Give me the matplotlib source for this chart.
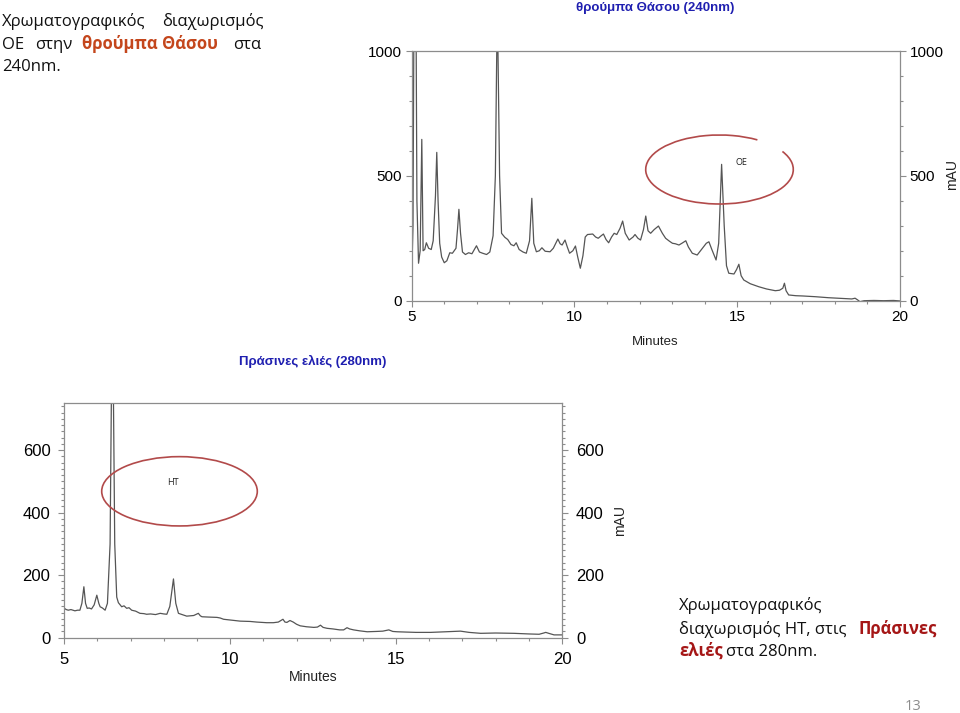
import matplotlib
matplotlib.use("Agg")
import matplotlib.pyplot as plt
from matplotlib.patches import Arc, Ellipse
from matplotlib.ticker import MultipleLocator

# ---------------- data ----------------
top_title = "θρούμπα Θάσου (240nm)"
top_time = [5.00, 5.04, 5.08, 5.12, 5.16, 5.21, 5.26, 5.31, 5.35, 5.40, 5.45, 5.52, 5.60, 5.66,
            5.73, 5.77, 5.81, 5.86, 5.92, 6.00, 6.08, 6.17, 6.25, 6.36, 6.41, 6.45, 6.50, 6.56,
            6.65, 6.75, 6.85, 6.99, 7.08, 7.18, 7.30, 7.40, 7.50, 7.57, 7.63, 7.70, 7.76, 7.86,
            7.95, 8.05, 8.14, 8.21, 8.30, 8.42, 8.52, 8.62, 8.69, 8.75, 8.83, 8.92, 9.00, 9.10,
            9.25, 9.35, 9.49, 9.56, 9.62, 9.71, 9.78, 9.85, 9.95, 10.03, 10.10, 10.18, 10.26,
            10.33, 10.40, 10.56, 10.65, 10.73, 10.82, 10.89, 10.97, 11.05, 11.14, 11.22, 11.30,
            11.40, 11.48, 11.56, 11.68, 11.80, 11.86, 11.95, 12.03, 12.12, 12.19, 12.26, 12.34,
            12.45, 12.58, 12.70, 12.80, 12.92, 13.01, 13.10, 13.21, 13.30, 13.42, 13.50, 13.62,
            13.77, 13.90, 14.05, 14.13, 14.22, 14.35, 14.43, 14.52, 14.60, 14.67, 14.74, 14.90,
            14.98, 15.05, 15.12, 15.20, 15.40, 15.66, 15.90, 16.17, 16.30, 16.40, 16.45, 16.50,
            16.58, 16.80, 17.00, 17.40, 17.80, 18.20, 18.52, 18.62, 18.70, 18.77, 18.90, 19.20,
            19.50, 19.80, 20.00]
top_mau = [100, 300, 1500, 1500, 400, 150, 200, 646, 200, 205, 232, 210, 205, 240,
           420, 594, 400, 230, 175, 152, 160, 192, 190, 210, 290, 366, 270, 195,
           185, 192, 188, 220, 195, 190, 185, 195, 260, 500, 1200, 500, 270, 254,
           245, 225, 220, 232, 205, 195, 190, 240, 410, 230, 196, 200, 212, 198,
           196, 210, 247, 228, 223, 243, 215, 190, 200, 219, 175, 130, 180,
           255, 265, 267, 255, 250, 260, 267, 245, 232, 255, 270, 265,
           290, 319, 270, 243, 255, 265, 250, 243, 285, 339, 280, 270,
           285, 299, 270, 250, 238, 230, 228, 223, 230, 240, 215, 190,
           183, 205, 230, 236, 205, 163, 230, 546, 300, 140, 110, 107,
           125, 146, 100, 83, 68, 56, 47, 40, 42, 50, 70, 40,
           23, 20, 19, 16, 12, 9, 7, 10, 3, -4, 0, 1,
           0, 1, -1]

bot_title = "Πράσινες ελιές (280nm)"
bot_time = [5.00, 5.06, 5.12, 5.20, 5.32, 5.40, 5.47, 5.53, 5.59, 5.64, 5.69, 5.75, 5.82, 5.90,
            5.98, 6.04, 6.08, 6.15, 6.23, 6.30, 6.38, 6.43, 6.47, 6.52, 6.58, 6.63, 6.73, 6.80,
            6.88, 6.95, 7.03, 7.15, 7.28, 7.40, 7.48, 7.60, 7.75, 7.89, 8.00, 8.09, 8.18, 8.29,
            8.36, 8.44, 8.55, 8.69, 8.90, 9.04, 9.10, 9.15, 9.35, 9.60, 9.70, 9.80, 10.05, 10.30,
            10.60, 10.80, 11.10, 11.30, 11.45, 11.59, 11.65, 11.71, 11.80, 11.90, 12.00, 12.11,
            12.30, 12.52, 12.63, 12.72, 12.80, 12.92, 13.10, 13.30, 13.42, 13.52, 13.60, 13.72,
            13.90, 14.13, 14.40, 14.60, 14.78, 14.90, 15.03, 15.30, 15.60, 16.04, 16.50, 16.94,
            17.20, 17.55, 18.00, 18.55, 19.00, 19.31, 19.45, 19.51, 19.60, 19.76, 20.00]
bot_mau = [94, 90, 88, 90, 86, 88, 88, 110, 163, 110, 94, 95, 92, 105,
           136, 110, 99, 95, 88, 110, 300, 900, 900, 300, 130, 112, 99, 102,
           94, 96, 88, 85, 78, 77, 75, 76, 74, 78, 76, 75, 100, 188,
           110, 78, 74, 69, 71, 78, 70, 67, 66, 65, 63, 59, 56, 53,
           52, 50, 48, 48, 50, 59, 50, 49, 55, 50, 43, 38,
           35, 33, 34, 40, 33, 30, 28, 25, 25, 32, 28, 25,
           22, 19, 20, 21, 25, 20, 19, 18, 17, 17, 19, 21,
           17, 14, 15, 14, 12, 11, 15, 17, 14, 9, 9]

x_ticks = [5, 10, 15, 20]
top_yticks = [0, 500, 1000]
bot_yticks = [0, 200, 400, 600]

# ---------------- figure ----------------
W, H = 960, 713
fig = plt.figure(figsize=(W / 100, H / 100), dpi=100)
fig.patch.set_facecolor("white")

axis_col = "#8c8c8c"
trace_col = "#555555"
blue = "#1f1fb0"
tick_font = "Liberation Sans"


def px_axes(x0, y0, x1, y1):
    return fig.add_axes([x0 / W, 1 - y1 / H, (x1 - x0) / W, (y1 - y0) / H])


def style(ax, yticks, ylim, yminor, fs):
    ax.set_xlim(5, 20)
    ax.set_ylim(*ylim)
    ax.set_xticks(x_ticks)
    ax.set_yticks(yticks)
    ax.xaxis.set_minor_locator(MultipleLocator(1))
    ax.yaxis.set_minor_locator(MultipleLocator(yminor))
    for s in ax.spines.values():
        s.set_color(axis_col)
        s.set_linewidth(0.9)
    ax.tick_params(which="both", color=axis_col, width=0.8, direction="out",
                   left=True, right=True, labelleft=True, labelright=True,
                   bottom=True, top=False)
    ax.tick_params(which="major", length=4, labelsize=fs, pad=3)
    ax.tick_params(which="minor", length=2.2)
    for lab in ax.get_xticklabels() + ax.get_yticklabels():
        lab.set_fontfamily(tick_font)
    ax.patch.set_alpha(0)


ax1 = px_axes(411.7, 51, 900, 300.7)
ax1.plot(top_time, top_mau, color=trace_col, lw=0.9, solid_joinstyle="round")
style(ax1, top_yticks, (0, 1000), 100, 11)

ax2 = px_axes(64.3, 403.3, 562, 637.7)
ax2.plot(bot_time, bot_mau, color=trace_col, lw=0.9, solid_joinstyle="round")
style(ax2, bot_yticks, (0, 750), 20, 12)
ax2.tick_params(which="major", pad=6)

# ---------------- overlay ----------------
ov = fig.add_axes([0, 0, 1, 1])
ov.set_xlim(0, W)
ov.set_ylim(H, 0)
ov.axis("off")
ov.patch.set_alpha(0)

lab_kw = dict(family=tick_font, color="#222222")
ov.text(655, 342, "Minutes", fontsize=9.5, ha="center", va="center", **lab_kw)
ov.text(952, 175, "mAU", fontsize=10, ha="center", va="center", rotation=90, **lab_kw)
ov.text(313, 677, "Minutes", fontsize=10, ha="center", va="center", **lab_kw)
ov.text(620, 520, "mAU", fontsize=10, ha="center", va="center", rotation=90, **lab_kw)

ov.text(655, 8, top_title, fontsize=9.5, ha="center", va="center", color=blue,
        family=tick_font, fontweight="bold")
ov.text(313, 361, bot_title, fontsize=9.5, ha="center", va="center", color=blue,
        family=tick_font, fontweight="bold")

ell_col = "#b24a4a"
ov.add_patch(Arc((719.5, 169.5), 147.6, 69, theta1=-16, theta2=322,
                 color=ell_col, lw=1.2))
ov.text(741.7, 162.7, "OE", fontsize=6.5, ha="center", va="center",
        family="Open Sans", color="#222222")
ov.add_patch(Ellipse((179.5, 491.3), 155.6, 69.3, fill=False,
                     edgecolor=ell_col, lw=1.2))
ov.text(173.3, 482.7, "HT", fontsize=6.5, ha="center", va="center",
        family="Open Sans", color="#222222")

body_font = ["Open Sans", "Noto Sans", "DejaVu Sans"]
fs_reg = 12.0
fs_bold = 12.0
orange = "#c4461c"
dred = "#a51616"
renderer = fig.canvas.get_renderer()


def word(x, y, s, color="#111111", bold=False):
    t = ov.text(x, y, s, fontsize=fs_bold if bold else fs_reg, family=body_font,
                color=color, fontweight="bold" if bold else "normal",
                ha="left", va="baseline")
    return t.get_window_extent(renderer=renderer).x1


word(2, 26, "Χρωματογραφικός")
word(162, 26, "διαχωρισμός")
word(2, 49, "ΟΕ")
word(35, 49, "στην")
word(82, 49, "θρούμπα Θάσου", orange, True)
word(233, 49, "στα")
word(2, 71, "240nm.")

word(679, 609.5, "Χρωματογραφικός")
xs = word(679, 633.5, "διαχωρισμός ΗΤ, στις")
word(max(858, xs + 4), 633.5, "Πράσινες", dred, True)
xe = word(679, 656, "ελιές", dred, True)
word(xe + 3, 656, "στα 280nm.")

ov.text(913, 706, "13", fontsize=10.5, family=body_font, color="#8c8c8c",
        ha="center", va="center")

fig.savefig("out.png", dpi=100, facecolor="white")
